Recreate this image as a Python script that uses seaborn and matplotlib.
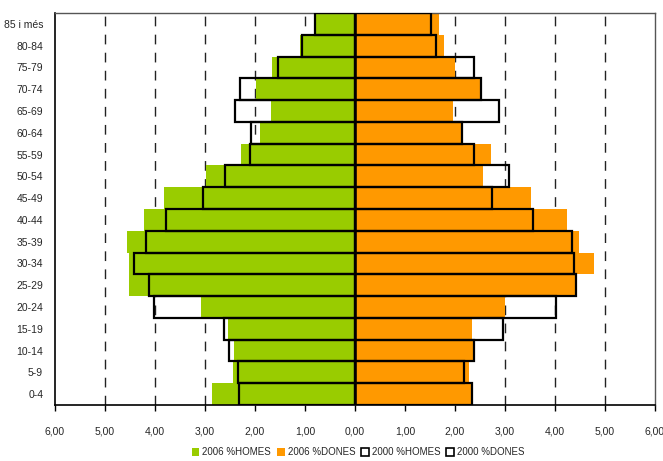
import matplotlib
matplotlib.use("Agg")
import matplotlib.pyplot as plt
import seaborn as sns
import pandas as pd
from matplotlib.patches import Patch
from matplotlib.ticker import FuncFormatter, MultipleLocator

categories = ["85 i més", "80-84", "75-79", "70-74", "65-69", "60-64", "55-59",
              "50-54", "45-49", "40-44", "35-39", "30-34", "25-29", "20-24",
              "15-19", "10-14", "5-9", "0-4"]
homes_2006 = [0.81, 1.10, 1.67, 1.98, 1.69, 1.91, 2.29, 2.98, 3.82, 4.22, 4.57,
              4.52, 4.52, 3.08, 2.54, 2.42, 2.45, 2.86]
dones_2006 = [1.67, 1.77, 1.99, 2.52, 1.96, 2.13, 2.72, 2.56, 3.51, 4.24, 4.48,
              4.78, 4.41, 2.99, 2.33, 2.37, 2.27, 2.31]
homes_2000 = [0.81, 1.06, 1.54, 2.31, 2.40, 2.09, 2.11, 2.61, 3.04, 3.79, 4.18,
              4.43, 4.11, 4.02, 2.62, 2.53, 2.35, 2.33]
dones_2000 = [1.52, 1.61, 2.37, 2.52, 2.88, 2.13, 2.37, 3.07, 2.73, 3.55, 4.33,
              4.37, 4.41, 4.02, 2.95, 2.38, 2.17, 2.33]
legend_labels = ["2006 %HOMES", "2006 %DONES", "2000 %HOMES", "2000 %DONES"]

df = pd.DataFrame({
    "cat": categories,
    "h06": [-v for v in homes_2006],
    "d06": dones_2006,
    "h00": [-v for v in homes_2000],
    "d00": dones_2000,
})

sns.set_style("white")
plt.rcParams["font.family"] = ["Liberation Sans", "DejaVu Sans"]

GREEN = "#99cc00"
ORANGE = "#ff9900"

fig = plt.figure(figsize=(6.63, 4.61), dpi=100)
ax = fig.add_axes([55 / 663, 1 - 405 / 461, 600 / 663, 392 / 461])

sns.barplot(data=df, y="cat", x="h06", order=categories, color=GREEN,
            width=1.0, saturation=1, linewidth=0, ax=ax, orient="h", zorder=2)
sns.barplot(data=df, y="cat", x="d06", order=categories, color=ORANGE,
            width=1.0, saturation=1, linewidth=0, ax=ax, orient="h", zorder=2)

for v in [-5, -4, -3, -2, -1, 1, 2, 3, 4, 5]:
    ax.axvline(v, color="#222222", lw=1.0, ls=(0, (7, 6)), zorder=1)

sns.barplot(data=df, y="cat", x="h00", order=categories, facecolor="none",
            edgecolor="black", width=1.0, linewidth=1.6, ax=ax, orient="h", zorder=3)
sns.barplot(data=df, y="cat", x="d00", order=categories, facecolor="none",
            edgecolor="black", width=1.0, linewidth=1.6, ax=ax, orient="h", zorder=3)

ax.axvline(0, color="black", lw=1.8, zorder=4)

ax.set_xlim(-6, 6)
ax.set_ylim(len(categories) - 0.5, -0.5)
ax.xaxis.set_major_locator(MultipleLocator(1))
ax.xaxis.set_major_formatter(FuncFormatter(lambda v, p: f"{abs(v):.2f}".replace(".", ",")))
ax.set_xlabel("")
ax.set_ylabel("")
ax.tick_params(axis="both", labelsize=7.5, color="black", direction="out")
ax.tick_params(axis="x", bottom=True, length=4, width=1, pad=11.5)
ax.tick_params(axis="y", left=False, pad=5)

for s in ["left", "bottom"]:
    ax.spines[s].set_color("black")
    ax.spines[s].set_linewidth(1.2)
for s in ["top", "right"]:
    ax.spines[s].set_color("#555555")
    ax.spines[s].set_linewidth(1.0)

handles = [Patch(facecolor=GREEN, edgecolor="none"),
           Patch(facecolor=ORANGE, edgecolor="none"),
           Patch(facecolor="white", edgecolor="black", linewidth=1.2),
           Patch(facecolor="white", edgecolor="black", linewidth=1.2)]
fig.legend(handles, legend_labels, loc="lower center", bbox_to_anchor=(0.540, -0.011),
           ncol=4, frameon=False, fontsize=7, handlelength=0.8, handleheight=0.8,
           handletextpad=0.3, columnspacing=0.6)

fig.savefig("out.png", dpi=100)
